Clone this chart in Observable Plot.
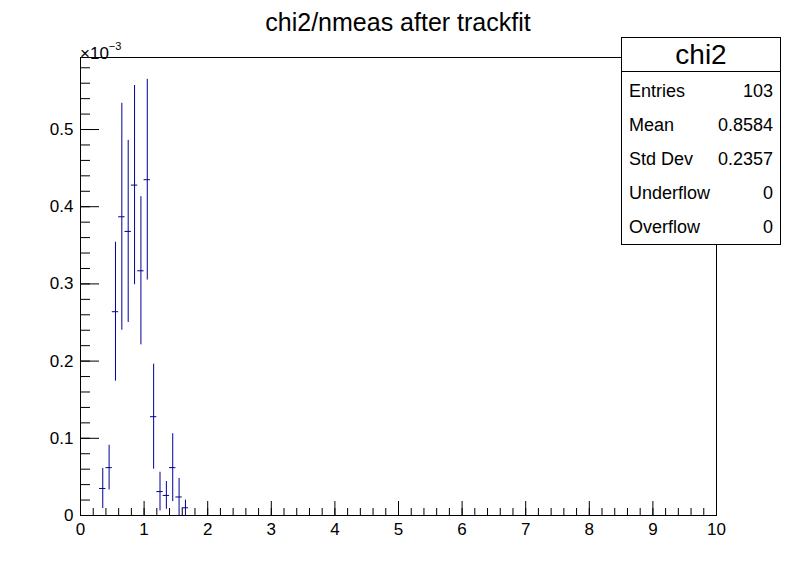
<!DOCTYPE html>
<html>
<head>
<meta charset="utf-8">
<script src="https://cdn.jsdelivr.net/npm/d3@7"></script>
<script src="https://cdn.jsdelivr.net/npm/@observablehq/plot@0.6"></script>
<style>
  body { margin: 0; background: #fff; font-family: "Liberation Sans", Arial, Helvetica, sans-serif; color: #000; }
  #wrap { position: relative; width: 796px; height: 572px; overflow: hidden; background: #fff; }
  #title { position: absolute; left: 0; top: 7px; width: 796px; text-align: center; font-size: 25px; line-height: 30px; white-space: nowrap; }
  #exp { position: absolute; left: 80px; top: 38px; font-size: 17px; line-height: 20px; white-space: nowrap; }
  #exp sup { font-size: 11px; position: relative; top: -2px; }
  #stats { position: absolute; left: 621px; top: 37px; width: 160px; height: 208px; box-sizing: border-box; border: 1px solid #000; background: #fff; }
  #stats .st-title { height: 34px; box-sizing: border-box; border-bottom: 1px solid #000; text-align: center; font-size: 28px; line-height: 34px; }
  #stats .rows { padding-top: 1.5px; }
  #stats .row { display: flex; justify-content: space-between; height: 34.2px; line-height: 34.2px; font-size: 18px; padding: 0 7px 0 7px; }
</style>
</head>
<body>
<div id="wrap"></div>
<script>
// ---- data (bin contents in units of 1e-3) ----
const binCenters  = [0.35, 0.45, 0.55, 0.65, 0.75, 0.85, 0.95, 1.05, 1.15, 1.25, 1.35, 1.45, 1.55, 1.65];
const binContents = [0.035, 0.062, 0.264, 0.387, 0.368, 0.428, 0.317, 0.435, 0.128, 0.031, 0.026, 0.062, 0.024, 0.010];
const binErrors   = [0.026, 0.029, 0.090, 0.147, 0.118, 0.129, 0.096, 0.130, 0.068, 0.025, 0.018, 0.044, 0.024, 0.010];
const binWidth = 0.1;

const xMajorTicks = [0, 1, 2, 3, 4, 5, 6, 7, 8, 9, 10];
const xMinorTicks = d3.range(0, 51).map(i => i / 5);
const yMajorTicks = [0, 0.1, 0.2, 0.3, 0.4, 0.5];
const yMinorTicks = d3.range(0, 30).map(i => i / 50);

const titleText = "chi2/nmeas after trackfit";
const statsName = "chi2";
const statsLabels = ["Entries", "Mean", "Std Dev", "Underflow", "Overflow"];
const statsValues = ["103", "0.8584", "0.2357", "0", "0"];

const data = binCenters.map((x, i) => ({
  x, y: binContents[i], e: binErrors[i]
}));

const blue = "#000099";
const font = "Liberation Sans, Arial, Helvetica, sans-serif";

const chart = Plot.plot({
  width: 796,
  height: 572,
  marginLeft: 80,
  marginRight: 80,
  marginTop: 57,
  marginBottom: 57,
  x: { domain: [0, 10] },
  y: { domain: [0, 0.5933] },
  style: { fontFamily: font, fontSize: "17px", color: "#000", background: "#fff", overflow: "visible" },
  marks: [
    Plot.axisX(xMinorTicks, { tickSize: -7, text: null, label: null }),
    Plot.axisX(xMajorTicks, { tickSize: -14, text: null, label: null }),
    Plot.axisX(xMajorTicks, { tickSize: 0, tickPadding: 7, fontSize: 17, label: null, tickFormat: d => String(d) }),
    Plot.axisY(yMinorTicks, { tickSize: -10, text: null, label: null }),
    Plot.axisY(yMajorTicks, { tickSize: -19, text: null, label: null }),
    Plot.axisY(yMajorTicks, { tickSize: 0, tickPadding: 7, fontSize: 17, label: null, tickFormat: d => d === 0 ? "0" : d.toFixed(1) }),
    Plot.ruleX(data, { x: "x", y1: d => Math.max(0, d.y - d.e), y2: d => d.y + d.e, stroke: blue, strokeWidth: 1 }),
    Plot.ruleY(data, { y: "y", x1: d => d.x - binWidth / 2, x2: d => d.x + binWidth / 2, stroke: blue, strokeWidth: 1 }),
    Plot.frame({ stroke: "#000", strokeWidth: 1 })
  ]
});

const wrap = document.getElementById("wrap");
wrap.appendChild(chart);

const title = document.createElement("div");
title.id = "title";
title.textContent = titleText;
wrap.appendChild(title);

const exp = document.createElement("div");
exp.id = "exp";
exp.innerHTML = "×10<sup>−3</sup>";
wrap.appendChild(exp);

const stats = document.createElement("div");
stats.id = "stats";
const st = document.createElement("div");
st.className = "st-title";
st.textContent = statsName;
stats.appendChild(st);
const rows = document.createElement("div");
rows.className = "rows";
statsLabels.forEach((lab, i) => {
  const r = document.createElement("div");
  r.className = "row";
  const a = document.createElement("span"); a.textContent = lab;
  const b = document.createElement("span"); b.textContent = statsValues[i];
  r.appendChild(a); r.appendChild(b);
  rows.appendChild(r);
});
stats.appendChild(rows);
wrap.appendChild(stats);
</script>
</body>
</html>
